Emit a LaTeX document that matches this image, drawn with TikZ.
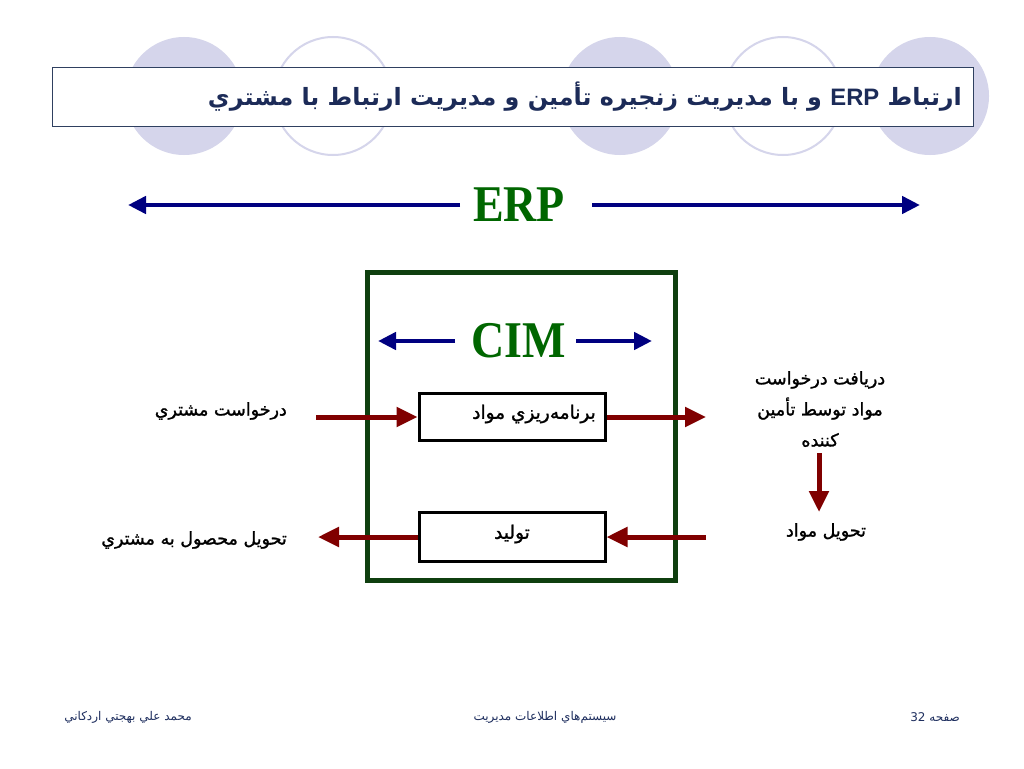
\documentclass[tikz,border=0pt]{standalone}
\usepackage{fontspec}
\usetikzlibrary{arrows.meta}
\TeXXeTstate=1
\newfontfamily\arabicfont[Script=Arabic]{DejaVu Sans}
\newfontfamily\arabicsemi[Script=Arabic,FakeBold=1.3]{DejaVu Sans}
\newfontfamily\serifb{Liberation Serif}
\newfontfamily\sansl{Liberation Sans}
\definecolor{lav}{HTML}{D5D5EB}
\definecolor{titleborder}{HTML}{2F4060}
\definecolor{titletext}{HTML}{1C2B58}
\definecolor{navyc}{HTML}{000080}
\definecolor{greentext}{HTML}{006600}
\definecolor{greenbox}{HTML}{0F3F0F}
\definecolor{redc}{HTML}{800000}
\definecolor{foottext}{HTML}{1F2F5F}
\begin{document}
\begin{tikzpicture}[x=1pt,y=-1pt,
  fillcirc/.style={fill=lav,draw=none},
  ringcirc/.style={draw=lav,line width=2pt,fill=white},
  navyarr/.style={draw=navyc,line width=4.5pt,-{Triangle[length=18pt,width=17pt]}},
  redarr/.style={draw=redc,line width=5pt,-{Triangle[length=21pt,width=19pt]}},
  procbox/.style={draw=black,line width=3pt,fill=white,minimum width=186pt,inner sep=0pt},
  lbl/.style={font=\arabicsemi\fontsize{17.5}{31}\selectfont,inner sep=1pt},
  boxtext/.style={font=\arabicsemi\fontsize{18.5}{22}\selectfont,inner sep=0pt},
  bigword/.style={font=\serifb\bfseries\fontsize{46}{50}\selectfont,text=greentext,inner sep=0pt},
  foot/.style={font=\arabicfont\fontsize{12}{14}\selectfont,text=foottext,inner sep=0pt}
]
\useasboundingbox (0,0) rectangle (1024,768);
\fill[white] (0,0) rectangle (1024,768);
% decorative circles
\path[fillcirc] (184,96) circle (59);
\path[ringcirc] (333,96) circle (59);
\path[fillcirc] (620,96) circle (59);
\path[ringcirc] (783,96) circle (59);
\path[fillcirc] (930,96) circle (59);
% title box
\node[draw=titleborder,line width=1pt,fill=white,minimum width=921pt,minimum height=59pt,inner sep=0pt] (titlebox) at (512.5,96.5) {};
\node[anchor=east,inner sep=0pt,text=titletext,font=\arabicfont\bfseries\fontsize{23.8}{28}\selectfont] (title) at (962,97)
  {\beginR ارتباط \beginL{\sansl\bfseries ERP}\endL{} و با مديريت زنجيره تأمين و مديريت ارتباط با مشتري\endR};
% ERP
\node[bigword] (erp) at (519,205) {\scalebox{1}[1.12]{ERP}};
\coordinate (erpLs) at (460,205);
\coordinate (erpLe) at (128,205);
\coordinate (erpRs) at (592,205);
\coordinate (erpRe) at (920,205);
\draw[navyarr] (erpLs) -- (erpLe);
\draw[navyarr] (erpRs) -- (erpRe);
% CIM frame
\node[draw=greenbox,line width=5pt,minimum width=308pt,minimum height=308pt,inner sep=0pt] (cimframe) at (521,426) {};
\node[bigword] (cim) at (519,341) {\scalebox{1}[1.12]{CIM}};
\coordinate (cimLs) at (455,341);
\coordinate (cimLe) at (378,341);
\coordinate (cimRs) at (576,341);
\coordinate (cimRe) at (652,341);
\draw[navyarr] (cimLs) -- (cimLe);
\draw[navyarr] (cimRs) -- (cimRe);
% process boxes
\node[procbox,minimum height=47pt] (plan) at (512,417) {};
\node[boxtext] (plantext) at (534,414) {\beginR برنامه‌ريزي مواد\endR};
\node[procbox,minimum height=49pt] (prod) at (512,537) {};
\node[boxtext] (prodtext) at (512,534) {\beginR توليد\endR};
% labels
\node[lbl,anchor=east] (req) at (288,411) {\beginR درخواست مشتري\endR};
\node[lbl,anchor=east] (deliv) at (288,540) {\beginR تحويل محصول به مشتري\endR};
\node[lbl,align=center] (supp) at (820,409) {\beginR دريافت درخواست\endR\\\beginR مواد توسط تأمين\endR\\\beginR كننده\endR};
\node[lbl] (matdel) at (826,532) {\beginR تحويل مواد\endR};
% red arrows
\coordinate (reqS) at (316,417);
\coordinate (planOut) at (706,417);
\coordinate (matIn) at (706,537);
\coordinate (delivE) at (318,537);
\coordinate (suppS) at (819,453);
\coordinate (suppE) at (819,512);
\draw[redarr] (reqS) -- (plan.west);
\draw[redarr] (plan.east) -- (planOut);
\draw[redarr] (matIn) -- (prod.east);
\draw[redarr] (prod.west) -- (delivE);
\draw[redarr] (suppS) -- (suppE);
% footer
\node[foot] (f1) at (128,717) {\beginR محمد علي بهجتي اردكاني\endR};
\node[foot] (f2) at (545,717) {\beginR سيستم‌هاي اطلاعات مديريت\endR};
\node[foot,anchor=east] (f3) at (960,717) {\beginR صفحه \beginL 32\endL\endR};
\end{tikzpicture}
\end{document}
